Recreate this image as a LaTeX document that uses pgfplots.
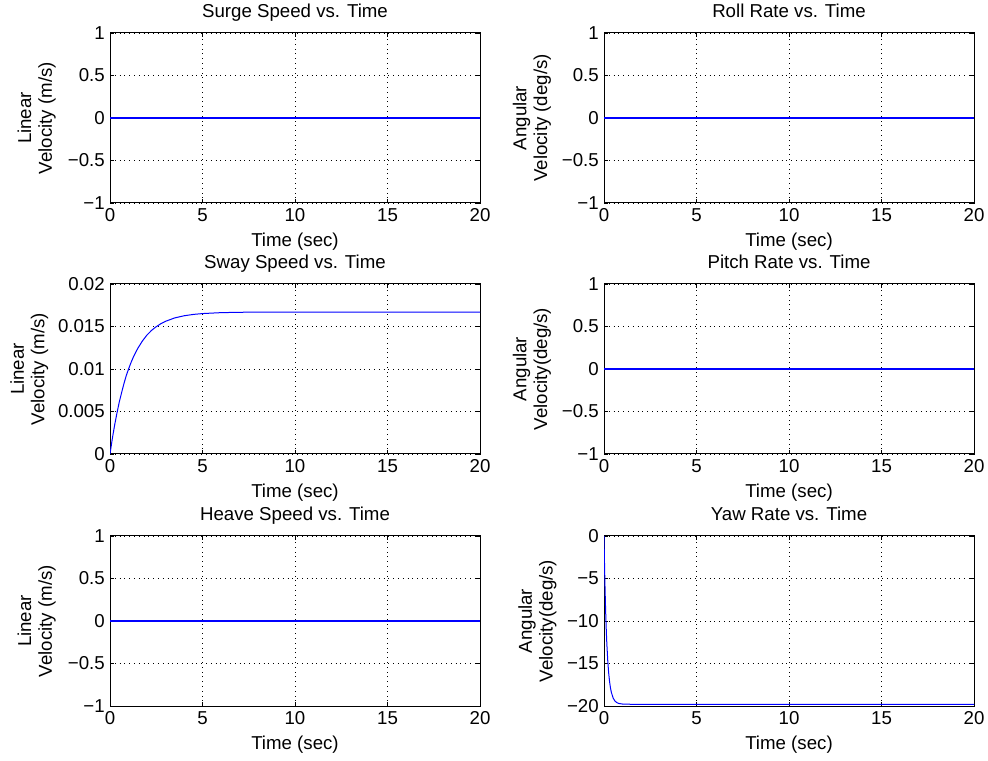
\documentclass[border=0pt]{standalone}
\usepackage{pgfplots}
\pgfplotsset{compat=1.18}
\usepackage{fontspec}
\setmainfont{Liberation Sans}
\begin{document}
\begin{tikzpicture}
\pgfplotsset{
  mat/.style={
    scale only axis, width=277.5pt, height=127.5pt,
    anchor=south west,
    xmin=0, xmax=20, xtick={0,5,10,15,20}, xticklabels={0,5,10,15,20},
    scaled y ticks=false, scaled x ticks=false,
    tick align=inside, major tick length=3pt,
    grid=major, grid style={black, line width=0.5pt, dash pattern=on 0.6pt off 3pt},
    axis line style={black, line width=0.75pt},
    tick style={black, line width=0.6pt},
    tick label style={inner sep=0pt, font=\fontsize{14}{16}\selectfont},
    xticklabel shift=3.75pt, yticklabel shift=3.75pt,
    every axis title shift=0pt,
    every axis title/.style={at={(axis description cs:0.5,1.091)}, anchor=base, inner sep=0pt, font=\fontsize{14}{16}\selectfont},
    every axis x label/.style={at={(axis description cs:0.5,-0.253)}, anchor=base, inner sep=0pt, font=\fontsize{14}{16}\selectfont},
    xlabel={Time (sec)},
  },
  ylab/.style={every axis y label/.style={at={(axis description cs:#1,0.5)}, rotate=90, anchor=center, align=center, inner sep=0pt, font=\fontsize{14}{15.5}\selectfont}},
  unit/.style={ymin=-1, ymax=1, ytick={-1,-0.5,0,0.5,1}, yticklabels={−1,−0.5,0,0.5,1}},
  ln/.style={blue, line width=0.75pt, no marks},
  flat/.style={blue, line width=1.1pt, no marks},
}
\useasboundingbox (0,0) rectangle (741pt,570pt);
% Surge
\begin{axis}[mat, unit, ylab=-0.198, at={(82.5pt,417.75pt)},
  title={Surge Speed vs. Time}, ylabel={Linear\\Velocity (m/s)}]
\addplot[flat] coordinates {(0,0) (20,0)};
\end{axis}
% Roll
\begin{axis}[mat, unit, ylab=-0.195, at={(453pt,417.75pt)},
  title={Roll Rate vs. Time}, ylabel={Angular\\Velocity (deg/s)}]
\addplot[flat] coordinates {(0,0) (20,0)};
\end{axis}
% Sway
\begin{axis}[mat, ylab=-0.218, at={(82.5pt,229.5pt)},
  ymin=0, ymax=0.02, ytick={0,0.005,0.01,0.015,0.02}, yticklabels={0,0.005,0.01,0.015,0.02},
  title={Sway Speed vs. Time}, ylabel={Linear\\Velocity (m/s)}]
\addplot[ln] coordinates {
(0,0) (0.125,0.0018) (0.25,0.0034) (0.375,0.0048) (0.5,0.0061) (0.625,0.0072) (0.75,0.00825)
(0.875,0.0092) (1,0.00997) (1.125,0.0107) (1.25,0.01134) (1.375,0.0119) (1.5,0.01242)
(1.75,0.01329) (2,0.0140) (2.25,0.01455) (2.5,0.01498) (2.75,0.01533) (3,0.01561)
(3.5,0.01601) (4,0.01626) (4.5,0.01642) (5,0.01652) (6,0.01663) (7,0.01667) (8,0.0167)
(10,0.0167) (15,0.0167) (20,0.0167)};
\end{axis}
% Pitch
\begin{axis}[mat, unit, ylab=-0.195, at={(453pt,229.5pt)},
  title={Pitch Rate vs. Time}, ylabel={Angular\\Velocity(deg/s)}]
\addplot[flat] coordinates {(0,0) (20,0)};
\end{axis}
% Heave
\begin{axis}[mat, unit, ylab=-0.198, at={(82.5pt,40.5pt)},
  title={Heave Speed vs. Time}, ylabel={Linear\\Velocity (m/s)}]
\addplot[flat] coordinates {(0,0) (20,0)};
\end{axis}
% Yaw
\begin{axis}[mat, ylab=-0.180, at={(453pt,40.5pt)},
  ymin=-20, ymax=0, ytick={-20,-15,-10,-5,0}, yticklabels={−20,−15,−10,−5,0},
  title={Yaw Rate vs. Time}, ylabel={Angular\\Velocity(deg/s)}]
\addplot[ln] coordinates {
(0,0) (0.025,-3.04) (0.05,-5.61) (0.075,-7.77) (0.1,-9.63) (0.125,-11.2) (0.15,-12.52)
(0.2,-14.58) (0.25,-16.06) (0.3,-17.12) (0.35,-17.88) (0.4,-18.42) (0.5,-19.09)
(0.6,-19.44) (0.7,-19.61) (0.8,-19.70) (1,-19.77) (1.5,-19.8) (5,-19.8) (10,-19.8) (20,-19.8)};
\end{axis}
\end{tikzpicture}
\end{document}
